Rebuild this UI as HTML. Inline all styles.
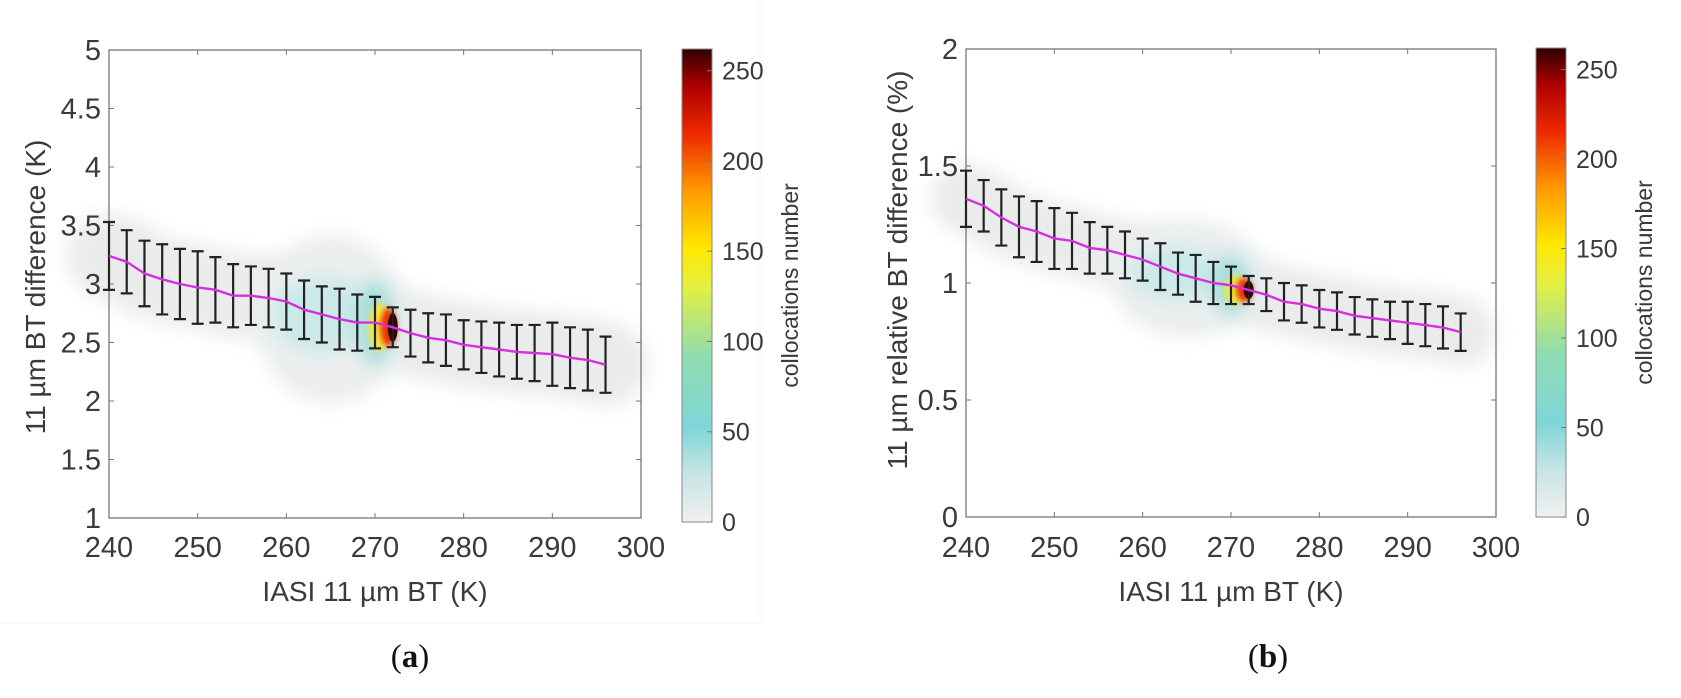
<!DOCTYPE html>
<html><head><meta charset="utf-8"><style>
body{margin:0;background:#fff;}
svg{display:block;font-family:"Liberation Sans",sans-serif;}
</style></head><body>
<svg id="s" width="1681" height="698" xmlns="http://www.w3.org/2000/svg">
<defs>
<linearGradient id="cb" x1="0" y1="1" x2="0" y2="0">
<stop offset="0" stop-color="#f0f0f0"/><stop offset="0.1" stop-color="#c8e4e4"/><stop offset="0.2" stop-color="#7fd6d8"/><stop offset="0.35" stop-color="#8fdcb0"/><stop offset="0.5" stop-color="#e6f040"/><stop offset="0.58" stop-color="#ffe800"/><stop offset="0.7" stop-color="#ff9a00"/><stop offset="0.82" stop-color="#ee2a00"/><stop offset="0.92" stop-color="#b00000"/><stop offset="1" stop-color="#300000"/>
</linearGradient>
<filter id="bl" x="-50%" y="-50%" width="200%" height="200%"><feGaussianBlur stdDeviation="9"/></filter>
<filter id="bl2" x="-50%" y="-50%" width="200%" height="200%"><feGaussianBlur stdDeviation="3"/></filter>
</defs>
<line x1="0" y1="623" x2="760" y2="623" stroke="#f2f2f2" stroke-width="1"/>
<line x1="760" y1="0" x2="760" y2="623" stroke="#f6f6f6" stroke-width="1"/>
<g id="g"></g>
</svg>
<script>
const NS="http://www.w3.org/2000/svg";const G=document.getElementById('g');
function el(t,a,txt){const e=document.createElementNS(NS,t);for(const k in a)e.setAttribute(k,a[k]);if(txt!==undefined)e.textContent=txt;G.appendChild(e);return e;}
function panel(P){
 const X=v=>P.x0+(v-240)/60*(P.x1-P.x0), Y=v=>P.y1-(v-P.ymin)/(P.ymax-P.ymin)*(P.y1-P.y0);
 let pts=[];for(let i=0;i<29;i++)pts.push([240+2*i,P.m[i]]);
 let d=pts.map((p,i)=>(i?'L':'M')+X(p[0]).toFixed(1)+','+Y(p[1]).toFixed(1)).join(' ');
 el('path',{d:d,stroke:'#eaecec','stroke-width':P.cw,fill:'none','stroke-linecap':'round',filter:'url(#bl)'});
 el('ellipse',{cx:X(265),cy:Y(P.m[13]),rx:75,ry:P.cry,fill:'#eceeee',filter:'url(#bl)'});
 el('ellipse',{cx:X(264),cy:Y(P.m[12]),rx:50,ry:P.cry*0.45,fill:'#cbe9e9',filter:'url(#bl)'});
 el('ellipse',{cx:X(270),cy:Y(P.m[15]),rx:18,ry:P.cry*0.5,fill:'#a0dcdc',filter:'url(#bl)'});
 el('ellipse',{cx:X(270.5),cy:Y(P.m[16]),rx:11,ry:P.yr,fill:'#f0e840',filter:'url(#bl2)'});
 el('ellipse',{cx:X(271.5),cy:Y(P.m[16]),rx:8,ry:P.yr*0.8,fill:'#ee3000',filter:'url(#bl2)'});
 el('ellipse',{cx:X(272),cy:Y(P.m[16]),rx:5,ry:P.yr*0.6,fill:'#300000'});
 el('rect',{x:P.x0,y:P.y0,width:P.x1-P.x0,height:P.y1-P.y0,fill:'none',stroke:'#777','stroke-width':1.3});
 for(let v=240;v<=300;v+=10){const x=X(v);el('line',{x1:x,x2:x,y1:P.y1,y2:P.y1-5,stroke:'#777'});el('line',{x1:x,x2:x,y1:P.y0,y2:P.y0+5,stroke:'#777'});
  el('text',{x:x,y:557,'font-size':29,fill:'#3a3a3a','text-anchor':'middle'},v);}
 P.yt.forEach(v=>{const y=Y(v);el('line',{x1:P.x0,x2:P.x0+5,y1:y,y2:y,stroke:'#777'});el('line',{x1:P.x1,x2:P.x1-5,y1:y,y2:y,stroke:'#777'});
  el('text',{x:P.x0-8,y:y+10,'font-size':29,fill:'#3a3a3a','text-anchor':'end'},v);});
 el('text',{x:(P.x0+P.x1)/2,y:601,'font-size':28,fill:'#3a3a3a','text-anchor':'middle'},'IASI 11 µm BT (K)');
 el('text',{transform:`translate(${P.lx},${P.lc}) rotate(-90)`,'font-size':28,fill:'#3a3a3a','text-anchor':'middle'},P.lab);
 for(let i=0;i<29;i++){const x=X(240+2*i),a=Y(P.m[i]+P.h[i]),b=Y(P.m[i]-P.h[i]);
  el('path',{d:`M${x},${a}V${b}M${x-6},${a}H${x+6}M${x-6},${b}H${x+6}`,stroke:'#222','stroke-width':2.2,fill:'none'});}
 el('path',{d:d,stroke:'#d62ee0','stroke-width':2.4,fill:'none'});
 const cy0=P.cy0,cy1=P.cy1;
 el('rect',{x:P.cx,y:cy0,width:30,height:cy1-cy0,fill:'url(#cb)',stroke:'#888','stroke-width':1});
 [0,50,100,150,200,250].forEach(v=>{const y=cy1-v/262*(cy1-cy0);el('line',{x1:P.cx+30,x2:P.cx+25,y1:y,y2:y,stroke:'#777'});
  el('text',{x:P.cx+40,y:y+9,'font-size':25,fill:'#3a3a3a'},v);});
 el('text',{transform:`translate(${P.cx+116},${(cy0+cy1)/2}) rotate(-90)`,'font-size':23,fill:'#3a3a3a','text-anchor':'middle'},'collocations number');
 const t=el('text',{x:P.tx,y:667,'font-size':33,fill:'#111','font-family':'Liberation Serif','text-anchor':'middle'});
 t.innerHTML='(<tspan font-weight="bold">'+P.let+'</tspan>)';
}
panel({x0:109,x1:641,y0:50,y1:518,ymin:1,ymax:5,yt:[1,1.5,2,2.5,3,3.5,4,4.5,5],lx:45,lc:287,cx:682,cy0:49,cy1:522,tx:410,let:'a',
 lab:'11 µm BT difference (K)',cw:85,cry:85,yr:24,
 m:[3.24,3.19,3.09,3.04,3.0,2.97,2.95,2.9,2.9,2.88,2.85,2.78,2.74,2.7,2.67,2.67,2.63,2.58,2.54,2.52,2.48,2.46,2.44,2.42,2.41,2.40,2.37,2.35,2.31],
 h:[0.29,0.27,0.28,0.3,0.3,0.31,0.28,0.27,0.25,0.25,0.24,0.25,0.24,0.26,0.24,0.22,0.17,0.2,0.21,0.22,0.21,0.22,0.23,0.23,0.24,0.27,0.26,0.26,0.24]});
panel({x0:966,x1:1496,y0:49,y1:517,ymin:0,ymax:2,yt:[0,0.5,1,1.5,2],lx:907,lc:270,cx:1536,cy0:48,cy1:517,tx:1268,let:'b',
 lab:'11 µm relative BT difference (%)',cw:70,cry:60,yr:15,
 m:[1.36,1.33,1.28,1.24,1.22,1.19,1.18,1.15,1.14,1.12,1.10,1.07,1.04,1.02,1.0,0.99,0.97,0.95,0.92,0.91,0.89,0.88,0.86,0.85,0.84,0.83,0.82,0.81,0.79],
 h:[0.12,0.11,0.12,0.13,0.13,0.13,0.12,0.11,0.1,0.1,0.09,0.1,0.09,0.1,0.09,0.08,0.06,0.07,0.08,0.08,0.08,0.08,0.08,0.08,0.08,0.09,0.09,0.09,0.08]});
</script>
</body></html>
